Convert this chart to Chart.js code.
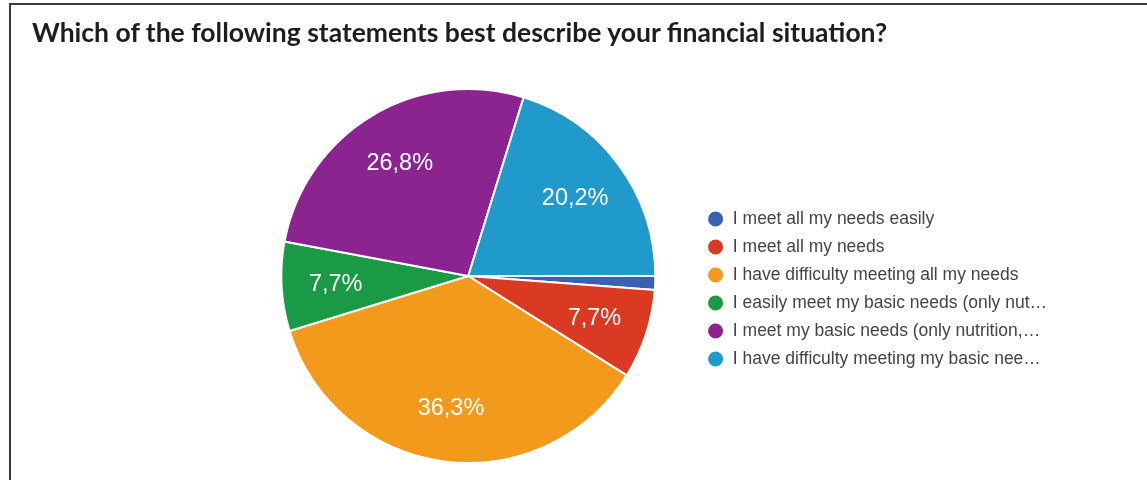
<!DOCTYPE html>
<html>
<head>
<meta charset="utf-8">
<script src="https://cdn.jsdelivr.net/npm/chart.js@4.4.1/dist/chart.umd.min.js"></script>
<style>
  body { margin: 0; background: #fff; }
  #wrap { position: relative; width: 1147px; height: 480px; overflow: hidden; }
  #frame { position: absolute; left: 9px; top: 3px; right: -10px; bottom: -10px;
           border-top: 2px solid #3a3a3a; border-left: 2px solid #3a3a3a; }
  h1 { position: absolute; left: 32px; top: 16px; margin: 0; white-space: nowrap;
       font: bold 26.5px/32px Lato, sans-serif; color: #1d1d1d; }
  canvas { position: absolute; left: 0; top: 0; }
</style>
</head>
<body>
<div id="wrap">
  <div id="frame"></div>
  <canvas id="financeChart" width="1147" height="480"></canvas>
  <h1>Which of the following statements best describe your financial situation?</h1>
</div>
<script>
const answers = [
  "I meet all my needs easily",
  "I meet all my needs",
  "I have difficulty meeting all my needs",
  "I easily meet my basic needs (only nut…",
  "I meet my basic needs (only nutrition,…",
  "I have difficulty meeting my basic nee…",
];
const shares = [1.2, 7.7, 36.3, 7.7, 26.8, 20.2];
const sliceColors = ["#3a5fb3", "#da3a22", "#f39a1d", "#1a9a44", "#8b2390", "#1f9acb"];

// percentage text inside the larger slices
const sliceLabels = {
  id: "sliceLabels",
  afterDatasetsDraw(chart) {
    const ctx = chart.ctx;
    const meta = chart.getDatasetMeta(0);
    ctx.save();
    ctx.font = "23.5px 'Liberation Sans', Arial, sans-serif";
    ctx.fillStyle = "#fff";
    ctx.textAlign = "center";
    ctx.textBaseline = "middle";
    meta.data.forEach((arc, i) => {
      const value = shares[i];
      if (value < 5) return;
      const { x, y, startAngle, endAngle, outerRadius } = arc.getProps(
        ["x", "y", "startAngle", "endAngle", "outerRadius"], true);
      const mid = (startAngle + endAngle) / 2;
      const r = outerRadius * 0.71;
      ctx.fillText(value.toFixed(1).replace(".", ",") + "%",
        x + Math.cos(mid) * r, y + Math.sin(mid) * r + 1);
    });
    ctx.restore();
  },
};

new Chart("financeChart", {
  type: "pie",
  data: {
    labels: answers,
    datasets: [{
      data: shares,
      backgroundColor: sliceColors,
      borderColor: "#fff",
      borderWidth: 2,
      radius: 187,
    }],
  },
  options: {
    responsive: false,
    animation: false,
    devicePixelRatio: 1,
    rotation: 90,
    layout: { padding: { left: 240, right: 90, top: 72, bottom: 0 } },
    plugins: {
      tooltip: { enabled: false },
      legend: {
        position: "right",
        // empty title just nudges the item column down a bit
        title: { display: true, text: "", padding: 0, font: { size: 26, lineHeight: 1 } },
        labels: {
          usePointStyle: true,
          pointStyle: "circle",
          boxHeight: 12,
          pointStyleWidth: 17,
          padding: 10.5,
          color: "#444",
          font: { family: "'Liberation Sans', Arial, sans-serif", size: 17.5 },
        },
      },
    },
  },
  plugins: [sliceLabels],
});
</script>
</body>
</html>
